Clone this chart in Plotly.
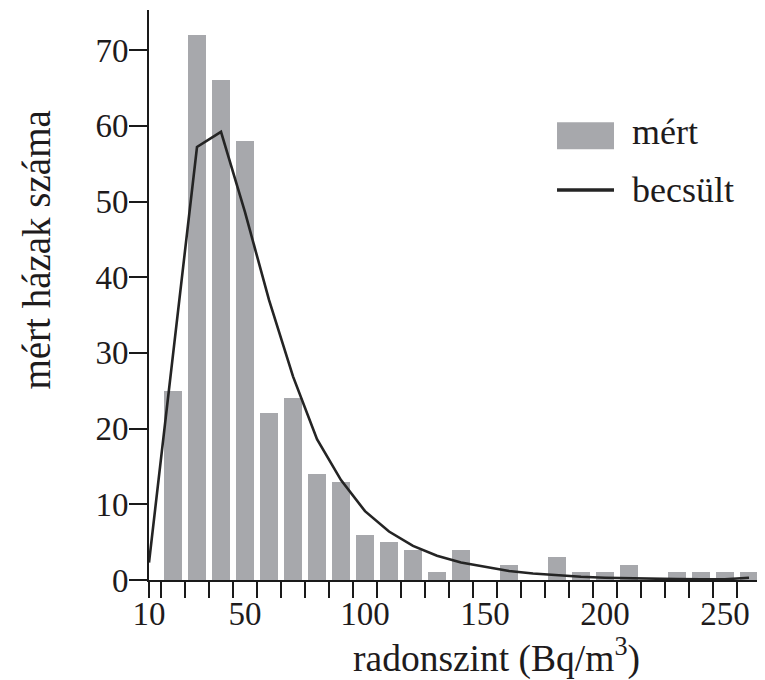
import plotly.graph_objects as go

# ---- data ----
bin_centers = [20, 30, 40, 50, 60, 70, 80, 90, 100, 110, 120, 130, 140, 150,
               160, 170, 180, 190, 200, 210, 220, 230, 240, 250, 260]
measured = [25, 72, 66, 58, 22, 24, 14, 13, 6, 5, 4, 1, 4, 0,
            2, 0, 3, 1, 1, 2, 0, 1, 1, 1, 1]

curve_x = [10, 20, 30, 40, 50, 60, 70, 80, 90, 100, 110, 120, 130, 140,
           150, 160, 170, 180, 190, 200, 210, 220, 230, 240, 250, 260]
estimated = [2.3, 29.8, 57.2, 59.2, 48.6, 37.0, 26.9, 18.6, 13.2, 9.1, 6.4,
             4.5, 3.2, 2.3, 1.7, 1.2, 0.85, 0.6, 0.42, 0.3, 0.22, 0.16,
             0.12, 0.1, 0.1, 0.3]

bin_edges = [10, 15, 25, 35, 45, 55, 65, 75, 85, 95, 105, 115, 125, 135, 145,
             155, 165, 175, 185, 195, 205, 215, 225, 235, 245, 255, 265]
x_label_vals = [10, 50, 100, 150, 200, 250]
x_label_text = ["10", "50", "100", "150", "200", "250"]
y_tick_vals = [0, 10, 20, 30, 40, 50, 60, 70]

series_names = ["mért", "becsült"]
x_title = "radonszint (Bq/m<sup>3</sup>)"
y_title = "mért házak száma"

FONT = "Liberation Serif, Times New Roman, serif"
TXT = "#1e1b1c"
BAR = "#a7a8ac"
LINE = "#242424"

fig = go.Figure()
fig.add_trace(go.Bar(x=bin_centers, y=measured, width=7.5, name=series_names[0],
                     marker=dict(color=BAR, line=dict(width=0)),
                     showlegend=False))
fig.add_trace(go.Scatter(x=curve_x, y=estimated, mode="lines", name=series_names[1],
                         line=dict(color=LINE, width=2.6), showlegend=False))
# invisible helper trace carrying the label axis
fig.add_trace(go.Scatter(x=[x_label_vals[0]], y=[0], xaxis="x2", mode="markers",
                         marker=dict(opacity=0), hoverinfo="skip", showlegend=False))

# the page body adds an 8px offset, so the figure is 8px smaller than the window
fig.update_layout(
    width=757, height=672,
    margin=dict(l=141, r=4, t=2, b=99.5, autoexpand=False),
    paper_bgcolor="white", plot_bgcolor="white",
    bargap=0,
    font=dict(family=FONT, color=TXT, size=33),
    xaxis=dict(range=[10, 265], showgrid=False, zeroline=False,
               showline=True, linecolor="#1a1a1a", linewidth=2,
               tickmode="array", tickvals=bin_edges, showticklabels=False,
               ticks="outside", ticklen=16, tickwidth=2, tickcolor="#1a1a1a",
               automargin=False),
    xaxis2=dict(range=[10, 265], overlaying="x", anchor="y", side="bottom",
                showgrid=False, zeroline=False, showline=False,
                tickmode="array", tickvals=x_label_vals, ticktext=x_label_text,
                ticks="", ticklabelstandoff=11, automargin=False,
                tickfont=dict(family=FONT, size=33, color=TXT)),
    yaxis=dict(range=[0, 75.3], showgrid=False, zeroline=False,
               showline=True, linecolor="#1a1a1a", linewidth=2,
               tickmode="array", tickvals=y_tick_vals,
               ticks="outside", ticklen=18, tickwidth=2, tickcolor="#1a1a1a",
               ticklabelstandoff=-6, automargin=False,
               tickfont=dict(family=FONT, size=33, color=TXT)),
)

# axis titles
fig.add_annotation(text=x_title, xref="paper", yref="paper", x=0.567, y=-0.1335,
                   showarrow=False, font=dict(family=FONT, size=37.5, color=TXT),
                   xanchor="center", yanchor="middle")
fig.add_annotation(text=y_title, xref="paper", yref="paper", x=-0.183, y=0.578,
                   showarrow=False, textangle=-90,
                   font=dict(family=FONT, size=39, color=TXT),
                   xanchor="center", yanchor="middle")

# legend (drawn as swatches + labels)
fig.add_shape(type="rect", xref="paper", yref="paper", x0=0.6667, x1=0.7598,
              y0=0.7555, y1=0.803, fillcolor=BAR, line=dict(width=0))
fig.add_shape(type="line", xref="paper", yref="paper", x0=0.6667, x1=0.7598,
              y0=0.6843, y1=0.6843, line=dict(color=LINE, width=3.5))
fig.add_annotation(text=series_names[0], xref="paper", yref="paper", x=0.786, y=0.7854,
                   showarrow=False, xanchor="left", yanchor="middle",
                   font=dict(family=FONT, size=36, color=TXT))
fig.add_annotation(text=series_names[1], xref="paper", yref="paper", x=0.786, y=0.685,
                   showarrow=False, xanchor="left", yanchor="middle",
                   font=dict(family=FONT, size=36, color=TXT))

fig.write_html("out.html")
